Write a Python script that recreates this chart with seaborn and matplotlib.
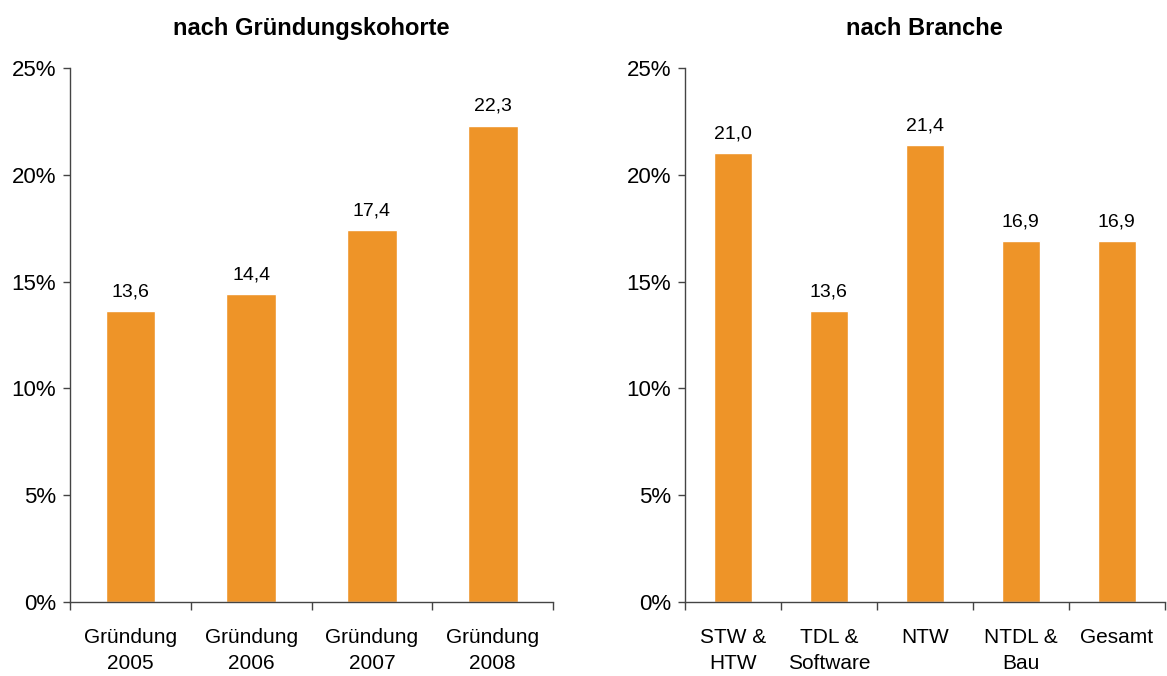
import matplotlib
matplotlib.use("Agg")
import matplotlib.pyplot as plt
import matplotlib.ticker as mticker
import pandas as pd
import seaborn as sns

kohorte_labels = ["Gründung\n2005", "Gründung\n2006", "Gründung\n2007", "Gründung\n2008"]
kohorte_values = [13.6, 14.4, 17.4, 22.3]

branche_labels = ["STW &\nHTW", "TDL &\nSoftware", "NTW", "NTDL &\nBau", "Gesamt"]
branche_values = [21.0, 13.6, 21.4, 16.9, 16.9]

titles = ["nach Gründungskohorte", "nach Branche"]
bar_color = "#EE9428"

sns.set_theme(style="white")
plt.rcParams["font.family"] = ["Liberation Sans", "DejaVu Sans"]
plt.rcParams["text.color"] = "black"
plt.rcParams["xtick.color"] = "black"
plt.rcParams["ytick.color"] = "black"

fig = plt.figure(figsize=(11.67, 6.76), dpi=100)
ax_left = fig.add_axes([0.060, 0.1095, 0.414, 0.790])
ax_right = fig.add_axes([0.587, 0.1095, 0.411, 0.790])

panels = [
    (ax_left, kohorte_labels, kohorte_values, titles[0], 0.41),
    (ax_right, branche_labels, branche_values, titles[1], 0.40),
]

for ax, labels, values, title, width in panels:
    df = pd.DataFrame({"cat": labels, "val": values})
    sns.barplot(data=df, x="cat", y="val", color=bar_color, saturation=1,
                width=width, ax=ax)
    n = len(labels)
    ax.set_xlim(-0.5, n - 0.5)
    ax.set_ylim(0, 25)
    ax.set_yticks([0, 5, 10, 15, 20, 25])
    ax.yaxis.set_major_formatter(mticker.FuncFormatter(lambda v, p: f"{v:.0f}%"))
    # category boundary ticks on x axis
    ax.set_xticks([i + 0.5 for i in range(-1, n)], minor=False)
    ax.set_xticklabels([""] * (n + 1))
    ax.set_xticks(range(n), minor=True)
    ax.set_xticklabels(labels, minor=True, fontsize=15, linespacing=1.45)
    ax.tick_params(axis="x", which="minor", length=0, pad=19)
    ax.tick_params(axis="x", which="major", direction="out", length=6,
                   width=1, color="#444444", bottom=True)
    ax.tick_params(axis="y", direction="out", length=5, width=1,
                   color="#444444", left=True, labelsize=16, pad=5)
    for side in ["top", "right"]:
        ax.spines[side].set_visible(False)
    for side in ["left", "bottom"]:
        ax.spines[side].set_color("#444444")
        ax.spines[side].set_linewidth(1)
    ax.set_xlabel("")
    ax.set_ylabel("")
    ax.set_title(title, fontsize=17, fontweight="bold", pad=24)
    for i, v in enumerate(values):
        ax.text(i, v + 0.5, f"{v:.1f}".replace(".", ","), ha="center",
                va="bottom", fontsize=14)

fig.savefig("out.png", dpi=100)
